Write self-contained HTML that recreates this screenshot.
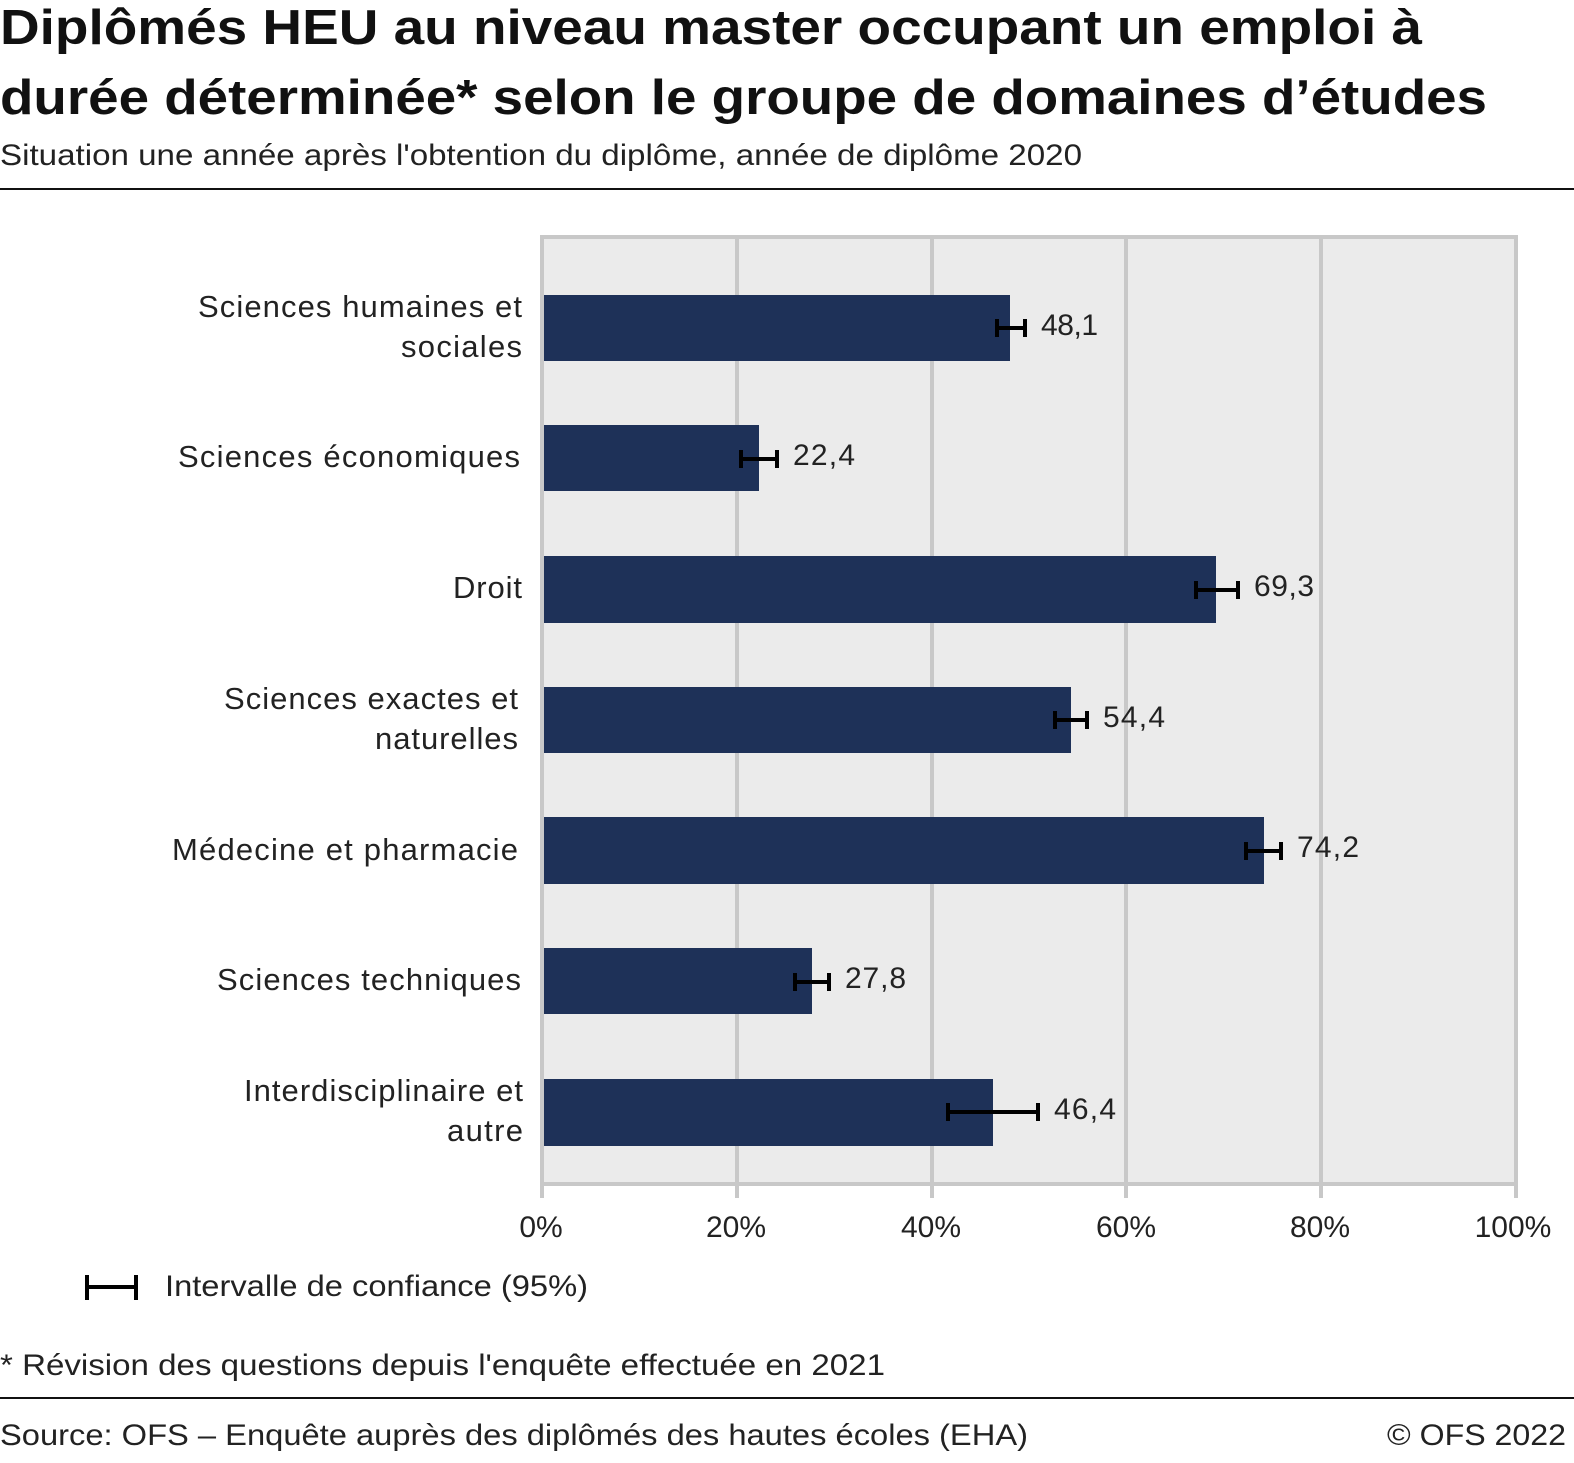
<!DOCTYPE html>
<html><head><meta charset="utf-8"><style>
body{margin:0;background:#fff;}
svg{display:block;font-family:"Liberation Sans",sans-serif;}
</style></head><body>
<svg width="1574" height="1463" viewBox="0 0 1574 1463">
<text x="0" y="44" font-size="49" font-weight="bold" fill="#111" textLength="1422" lengthAdjust="spacingAndGlyphs">Diplômés HEU au niveau master occupant un emploi à</text>
<text x="0" y="114" font-size="49" font-weight="bold" fill="#111" textLength="1487" lengthAdjust="spacingAndGlyphs">durée déterminée* selon le groupe de domaines d’études</text>
<text x="0" y="165" font-size="30" fill="#222" textLength="1082" lengthAdjust="spacingAndGlyphs">Situation une année après l'obtention du diplôme, année de diplôme 2020</text>
<line x1="0" y1="189" x2="1574" y2="189" stroke="#111" stroke-width="2"/>
<rect x="542" y="237" width="974" height="947" fill="#ebebeb"/>
<g stroke="#c8c8c8" stroke-width="4">
<line x1="737" y1="237" x2="737" y2="1198"/>
<line x1="932" y1="237" x2="932" y2="1198"/>
<line x1="1126" y1="237" x2="1126" y2="1198"/>
<line x1="1321" y1="237" x2="1321" y2="1198"/>
<line x1="1516" y1="237" x2="1516" y2="1198"/>
<line x1="542" y1="237" x2="542" y2="1198"/>
<line x1="540" y1="237" x2="1518" y2="237"/>
<line x1="540" y1="1184" x2="1518" y2="1184"/>
</g>
<g fill="#1e3158">
<rect x="544" y="295" width="466" height="66"/>
<rect x="544" y="425" width="215" height="66"/>
<rect x="544" y="556" width="672" height="67"/>
<rect x="544" y="687" width="527" height="66"/>
<rect x="544" y="817" width="720" height="67"/>
<rect x="544" y="948" width="268" height="66"/>
<rect x="544" y="1079" width="449" height="67"/>
</g>
<g stroke="#000" stroke-width="4" fill="none">
<path d="M997 328H1025M997 319V337M1025 319V337"/>
<path d="M741 459H777M741 450V468M777 450V468"/>
<path d="M1196 590H1238M1196 581V599M1238 581V599"/>
<path d="M1055 720H1087M1055 711V729M1087 711V729"/>
<path d="M1246 851H1281M1246 842V860M1281 842V860"/>
<path d="M795 982H829M795 973V991M829 973V991"/>
<path d="M948 1112H1038M948 1103V1121M1038 1103V1121"/>
</g>
<g font-size="30" fill="#222" lengthAdjust="spacingAndGlyphs">
<text x="1041" y="335" textLength="57">48,1</text>
<text x="793" y="465" textLength="62">22,4</text>
<text x="1254" y="596" textLength="60">69,3</text>
<text x="1103" y="727" textLength="62">54,4</text>
<text x="1297" y="857" textLength="62">74,2</text>
<text x="845" y="988" textLength="61">27,8</text>
<text x="1054" y="1119" textLength="62">46,4</text>
</g>
<g font-size="31" fill="#222" lengthAdjust="spacingAndGlyphs">
<text x="198" y="317" textLength="324">Sciences humaines et</text>
<text x="401" y="357" textLength="121">sociales</text>
<text x="178" y="467" textLength="342">Sciences économiques</text>
<text x="453" y="598" textLength="69">Droit</text>
<text x="224" y="709" textLength="294">Sciences exactes et</text>
<text x="375" y="749" textLength="143">naturelles</text>
<text x="172" y="860" textLength="346">Médecine et pharmacie</text>
<text x="217" y="990" textLength="304">Sciences techniques</text>
<text x="244" y="1101" textLength="279">Interdisciplinaire et</text>
<text x="447" y="1141" textLength="76">autre</text>
</g>
<g font-size="30" fill="#222" text-anchor="middle">
<text x="541" y="1237">0%</text>
<text x="736" y="1237">20%</text>
<text x="931" y="1237">40%</text>
<text x="1126" y="1237">60%</text>
<text x="1320" y="1237">80%</text>
<text x="1513" y="1237">100%</text>
</g>
<path d="M87 1287H136M87 1275V1300M136 1275V1300" stroke="#000" stroke-width="4" fill="none"/>
<text x="165" y="1296" font-size="30" fill="#222" textLength="423" lengthAdjust="spacingAndGlyphs">Intervalle de confiance (95%)</text>
<text x="0" y="1375" font-size="30" fill="#222" textLength="885" lengthAdjust="spacingAndGlyphs">* Révision des questions depuis l'enquête effectuée en 2021</text>
<line x1="0" y1="1398" x2="1574" y2="1398" stroke="#111" stroke-width="2"/>
<text x="0" y="1445" font-size="30" fill="#222" textLength="1028" lengthAdjust="spacingAndGlyphs">Source: OFS – Enquête auprès des diplômés des hautes écoles (EHA)</text>
<text x="1387" y="1445" font-size="30" fill="#222" textLength="179" lengthAdjust="spacingAndGlyphs">© OFS 2022</text>
</svg>
</body></html>
